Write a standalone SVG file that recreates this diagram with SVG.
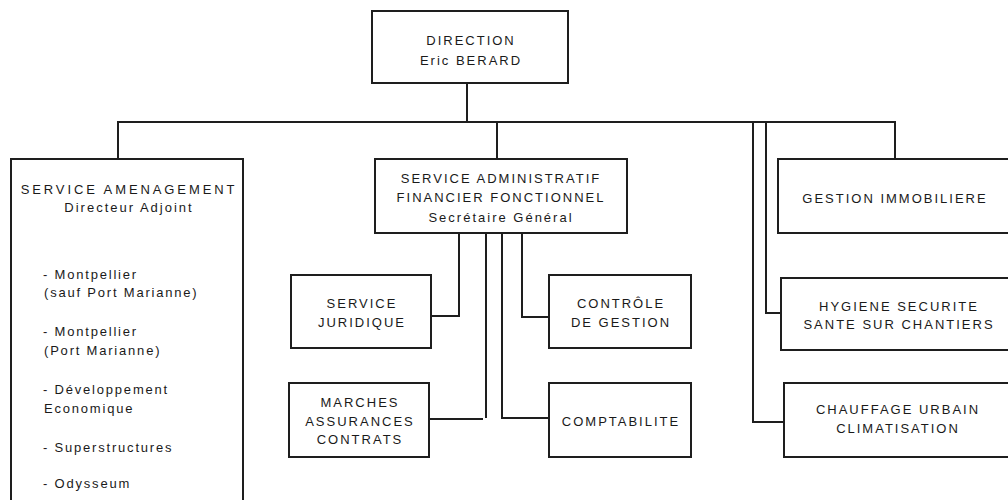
<svg xmlns="http://www.w3.org/2000/svg" width="1008" height="500" viewBox="0 0 1008 500">
  <style>
    .box { fill: #ffffff; stroke: #1e1e1e; stroke-width: 2; }
    .wire { fill: none; stroke: #1e1e1e; stroke-width: 2; }
    text { font-family: "Liberation Sans", Arial, sans-serif; font-size: 13px; fill: #1a1a1a; letter-spacing: 2px; }
    .c { text-anchor: middle; }
    .item { letter-spacing: 1.8px; }
  </style>
  <rect width="1008" height="500" fill="#ffffff"/>

  <!-- connectors -->
  <g id="connectors">
    <polyline class="wire" points="467,83 467,122"/>
    <polyline class="wire" points="118,159 118,122 895,122 895,159"/>
    <polyline class="wire" points="497,122 497,159"/>
    <polyline class="wire" points="753,122 753,422 784,422"/>
    <polyline class="wire" points="766,122 766,313 781,313"/>
    <polyline class="wire" points="459,233 459,316 431,316"/>
    <polyline class="wire" points="522,233 522,317 549,317"/>
    <polyline class="wire" points="486,233 486,418"/>
    <polyline class="wire" points="429,419 483,419"/>
    <polyline class="wire" points="502,233 502,418 549,418"/>
  </g>

  <!-- top -->
  <g id="direction">
    <rect class="box" x="372" y="11" width="196" height="72"/>
    <text class="c" x="471" y="45">DIRECTION</text>
    <text class="c" x="471" y="65">Eric BERARD</text>
  </g>

  <!-- left column -->
  <g id="service-amenagement">
    <rect class="box" x="11" y="159" width="232" height="352"/>
    <rect x="242" y="233" width="2" height="2" fill="#1e1e1e"/>
    <text class="c" x="129" y="194" style="letter-spacing:2.9px">SERVICE AMENAGEMENT</text>
    <text class="c" x="129" y="212">Directeur Adjoint</text>
    <text class="item" x="43" y="279">-  Montpellier</text>
    <text class="item" x="44" y="297">(sauf Port Marianne)</text>
    <text class="item" x="43" y="336">-  Montpellier</text>
    <text class="item" x="44" y="355">(Port Marianne)</text>
    <text class="item" x="43" y="394">-  Développement</text>
    <text class="item" x="44" y="413">Economique</text>
    <text class="item" x="43" y="452">-  Superstructures</text>
    <text class="item" x="43" y="488">- Odysseum</text>
  </g>

  <!-- centre column -->
  <g id="service-administratif">
    <rect class="box" x="375" y="159" width="252" height="74"/>
    <text class="c" x="501" y="183">SERVICE ADMINISTRATIF</text>
    <text class="c" x="501" y="202">FINANCIER FONCTIONNEL</text>
    <text class="c" x="501" y="222">Secrétaire Général</text>
  </g>

  <g id="service-juridique">
    <rect class="box" x="291" y="275" width="140" height="73"/>
    <text class="c" x="362" y="308">SERVICE</text>
    <text class="c" x="362" y="327">JURIDIQUE</text>
  </g>

  <g id="controle-gestion">
    <rect class="box" x="549" y="275" width="142" height="73"/>
    <text class="c" x="621" y="308">CONTRÔLE</text>
    <text class="c" x="621" y="327">DE GESTION</text>
  </g>

  <g id="marches">
    <rect class="box" x="289" y="383" width="140" height="74"/>
    <text class="c" x="360" y="407">MARCHES</text>
    <text class="c" x="360" y="426">ASSURANCES</text>
    <text class="c" x="360" y="444">CONTRATS</text>
  </g>

  <g id="comptabilite">
    <rect class="box" x="549" y="383" width="142" height="74"/>
    <text class="c" x="621" y="426">COMPTABILITE</text>
  </g>

  <!-- right column -->
  <g id="gestion-immobiliere">
    <rect class="box" x="778" y="159" width="240" height="74"/>
    <text class="c" x="895" y="203">GESTION IMMOBILIERE</text>
  </g>

  <g id="hygiene-securite">
    <rect class="box" x="781" y="278" width="240" height="72"/>
    <text class="c" x="899" y="311">HYGIENE SECURITE</text>
    <text class="c" x="899" y="329">SANTE SUR CHANTIERS</text>
  </g>

  <g id="chauffage-urbain">
    <rect class="box" x="784" y="383" width="240" height="74"/>
    <text class="c" x="898" y="414">CHAUFFAGE URBAIN</text>
    <text class="c" x="898" y="433">CLIMATISATION</text>
  </g>
</svg>
